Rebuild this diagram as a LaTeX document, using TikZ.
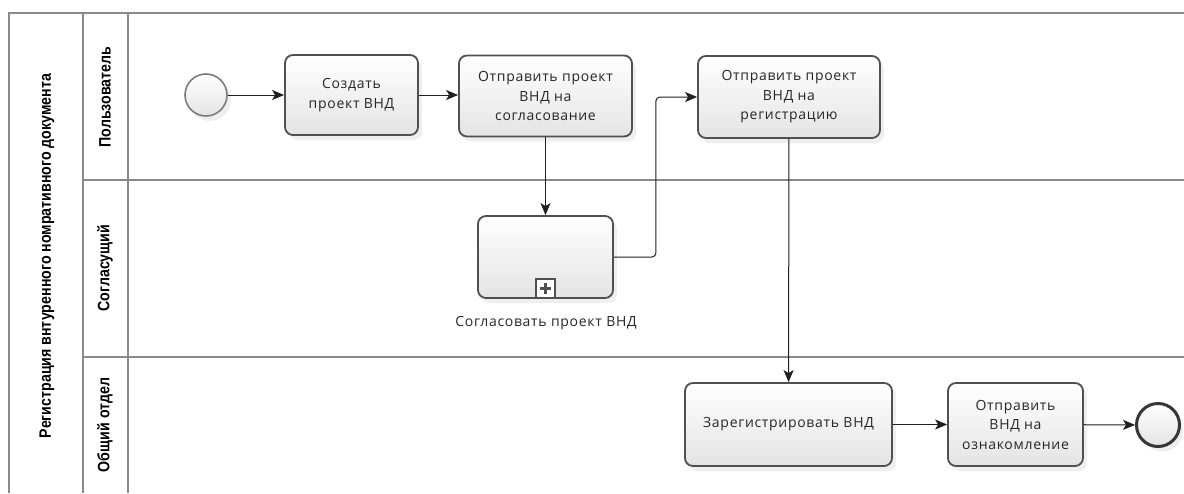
\documentclass[tikz,border=0pt]{standalone}
\usepackage{fontspec}
\setmainfont{Open Sans}
\newfontfamily\taskfont[LetterSpace=5]{Open Sans}
\newfontfamily\lanefont[FakeStretch=0.86]{Liberation Sans}
\usetikzlibrary{arrows.meta,shadows,calc}
\definecolor{poolc}{HTML}{8A8A8A}
\definecolor{taskline}{HTML}{505050}
\definecolor{taskfill}{HTML}{E4E4E4}
\definecolor{flowc}{HTML}{202020}
\begin{document}
\begin{tikzpicture}[x=1pt,y=-1pt,
  pool/.style={draw=poolc, line width=1.6pt},
  lanelabel/.style={rotate=90, font=\lanefont\bfseries\fontsize{16.5}{18}\selectfont, text=black},
  taskbox/.style={draw=taskline, line width=1.8pt, rounded corners=8pt,
    top color=white, bottom color=taskfill, inner sep=0pt, align=center,
    font=\taskfont\fontsize{14}{19.5}\selectfont, text=black!85,
    drop shadow={shadow xshift=4pt, shadow yshift=-5pt, opacity=0.12}},
  flow/.style={draw=flowc, line width=1pt, -{Stealth[length=12pt,width=10pt,inset=3pt]}},
  txt/.style={font=\taskfont\fontsize{14}{16}\selectfont, text=black!85}
]
\useasboundingbox (0,0) rectangle (1184,493);
\fill[white] (0,0) rectangle (1184,493);
% pool and lanes
\draw[pool] (9,493) -- (9,13) -- (1184,13);
\draw[pool] (83,13) -- (83,493);
\draw[pool] (128,13) -- (128,493);
\draw[pool] (83,180) -- (1184,180);
\draw[pool] (83,357) -- (1184,357);
\node[lanelabel] (pooltitle) at (47,256) {Регистрация внтуренного номративного документа};
\node[lanelabel] (lane1) at (105,97) {Пользователь};
\node[lanelabel] (lane2) at (105,268) {Согласущий};
\node[lanelabel] (lane3) at (105,425) {Общий отдел};
% events
\node[circle, draw=poolc!90!black, line width=1.6pt, minimum size=42pt, inner sep=0pt,
  top color=white, bottom color=taskfill,
  drop shadow={shadow xshift=4pt, shadow yshift=-5pt, opacity=0.12}] (start) at (206,95) {};
\node[circle, draw=flowc!90, line width=3pt, minimum size=43pt, inner sep=0pt,
  top color=white, bottom color=taskfill,
  drop shadow={shadow xshift=4pt, shadow yshift=-5pt, opacity=0.12}] (end) at (1158,425) {};
% tasks
\node[taskbox, minimum width=133pt, minimum height=80pt] (create) at (351.5,95) {Создать\\проект ВНД};
\node[taskbox, minimum width=173pt, minimum height=81pt] (sendA) at (545.5,96) {Отправить проект\\ВНД на\\согласование};
\node[taskbox, minimum width=182pt, minimum height=82pt] (sendR) at (789,97) {Отправить проект\\ВНД на\\регистрацию};
\node[taskbox, minimum width=135pt, minimum height=82pt] (sub) at (545.5,257) {};
\node[draw=taskline, line width=1.6pt, fill=white, minimum size=19pt, inner sep=0pt, anchor=south] (mark) at (sub.south) {};
\draw[draw=taskline, line width=3pt] ($(mark.center)+(-5.5,0)$) -- ($(mark.center)+(5.5,0)$);
\draw[draw=taskline, line width=3pt] ($(mark.center)+(0,-5.5)$) -- ($(mark.center)+(0,5.5)$);
\node[txt] (sublabel) at (546,323) {Согласовать проект ВНД};
\node[taskbox, minimum width=207pt, minimum height=83pt] (regist) at (788.5,424.5) {Зарегистрировать ВНД};
\node[taskbox, minimum width=135pt, minimum height=83pt] (notify) at (1015.5,424.5) {Отправить\\ВНД на\\ознакомление};
% flows
\draw[flow] (start) -- (create);
\draw[flow] (create) -- (create -| sendA.west);
\draw[flow] (sendA) -- (sub);
\draw[flow, rounded corners=4pt] (sub.east) -- ++(42,0) |- (sendR.west);
\draw[flow] (sendR) -- (regist);
\draw[flow] (regist) -- (notify);
\draw[flow] (notify) -- (end);
\end{tikzpicture}
\end{document}
